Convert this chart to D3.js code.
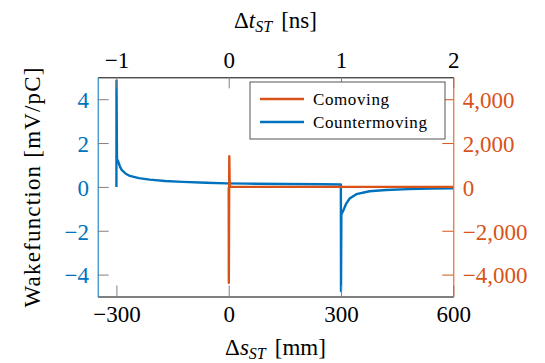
<!DOCTYPE html>
<html>
<head>
<meta charset="utf-8">
<script src="https://cdn.jsdelivr.net/npm/d3@7"></script>
<style>
  html, body { margin: 0; padding: 0; background: #fff; }
  svg { display: block; }
</style>
</head>
<body>
<svg id="chart" width="545" height="363"></svg>
<script>
// Longitudinal position offset [mm] and wake [mV/pC] of the countermoving beam
const counterS = [-300, -299.8, -298.5, -296, -290, -286, -275, -264, -240, -211, -170, -123, -60, -5, 50, 150, 250, 299.6,
                  300, 301, 305, 314, 323, 341, 376, 420, 480, 540, 600];
const counterW = [0, 4.85, 1.25, 1.2, 0.9, 0.78, 0.6, 0.5, 0.4, 0.33, 0.27, 0.23, 0.19, 0.16, 0.15, 0.13, 0.12, 0.11,
                  -4.75, -1.25, -1.12, -0.76, -0.53, -0.33, -0.2, -0.14, -0.1, -0.08, -0.06];

// Comoving beam wake [mV/pC], right-hand scale
const comovS = [0, 0.3, 1.5, 2.5, 4, 600];
const comovW = [0, -4370, 1400, 200, 0, 0];

const sTicks = [-300, 0, 300, 600];
const tTicks = [-1, 0, 1, 2];
const wakeTicks = [-4, -2, 0, 2, 4];
const comovTicks = [-4000, -2000, 0, 2000, 4000];

const seriesNames = ["Comoving", "Countermoving"];
const colors = { comov: "#D95319", counter: "#0072BD" };
const tickGray = "#808080";
const fontSize = 23;
const serif = "Tinos, 'Noto Serif', 'Nimbus Roman', 'Nimbus Roman No9 L', FreeSerif, 'Times New Roman', Times, 'Noto Serif CJK SC', 'Liberation Serif', 'DejaVu Serif', serif";

const margin = { left: 97.7, right: 545 - 453.3, top: 77.3, bottom: 363 - 296.5 };
const W = 545, H = 363;
const pw = W - margin.left - margin.right;
const ph = H - margin.top - margin.bottom;

const svg = d3.select("#chart");
const g = svg.append("g").attr("transform", `translate(${margin.left},${margin.top})`);

const x = d3.scaleLinear().domain([-350, 600]).range([0, pw]);
const xt = d3.scaleLinear().domain([-350 / 300, 2]).range([0, pw]);
const yL = d3.scaleLinear().domain([-5, 5]).range([ph, 0]);
const yR = d3.scaleLinear().domain([-5000, 5000]).range([ph, 0]);

g.append("clipPath").attr("id", "plotClip")
  .append("rect").attr("x", 0).attr("y", 0).attr("width", pw).attr("height", ph);

// curves
const counterData = counterS.map((s, i) => [s, counterW[i]]);
const comovData = comovS.map((s, i) => [s, comovW[i]]);

const plot = g.append("g").attr("clip-path", "url(#plotClip)");
plot.append("path")
  .datum(counterData)
  .attr("fill", "none")
  .attr("stroke", colors.counter)
  .attr("stroke-width", 2.4)
  .attr("stroke-linejoin", "round")
  .attr("d", d3.line().x(d => x(d[0])).y(d => yL(d[1])));
plot.append("path")
  .datum(comovData)
  .attr("fill", "none")
  .attr("stroke", colors.comov)
  .attr("stroke-width", 2.4)
  .attr("stroke-linejoin", "round")
  .attr("d", d3.line().x(d => x(d[0])).y(d => yR(d[1])));

// axes (ticks point inward)
function styleAxis(sel, domainColor, tickColor, textColor) {
  sel.attr("font-family", serif).attr("font-size", fontSize);
  sel.select(".domain").attr("stroke", domainColor).attr("stroke-width", 1);
  sel.selectAll(".tick line").attr("stroke", tickColor).attr("stroke-width", 1);
  sel.selectAll(".tick text").attr("fill", textColor);
}

const axB = g.append("g").attr("transform", `translate(0,${ph})`)
  .call(d3.axisBottom(x).tickValues(sTicks).tickSize(-11).tickSizeOuter(0).tickPadding(9.2));
styleAxis(axB, "#000", tickGray, "#000");

const axT = g.append("g")
  .call(d3.axisTop(xt).tickValues(tTicks).tickSize(-11).tickSizeOuter(0).tickPadding(9.3).tickFormat(d3.format("d")));
styleAxis(axT, "#000", tickGray, "#000");

const axL = g.append("g")
  .call(d3.axisLeft(yL).tickValues(wakeTicks).tickSize(-11).tickSizeOuter(0).tickPadding(8.7));
styleAxis(axL, colors.counter, tickGray, colors.counter);
axL.selectAll(".tick text").attr("dy", "0.36em");

const axR = g.append("g").attr("transform", `translate(${pw},0)`)
  .call(d3.axisRight(yR).tickValues(comovTicks).tickSize(-11).tickSizeOuter(0).tickPadding(9.4).tickFormat(d3.format(",")));
styleAxis(axR, colors.comov, colors.comov, colors.comov);
axR.selectAll(".tick text").attr("dy", "0.36em");

// legend
const lg = g.append("g").attr("transform", `translate(${250 - margin.left},${82 - margin.top})`);
lg.append("rect").attr("width", 195).attr("height", 57)
  .attr("fill", "#fff").attr("stroke", "#555").attr("stroke-width", 1);
seriesNames.forEach((name, i) => {
  const yy = 17 + i * 23;
  lg.append("line").attr("x1", 10).attr("x2", 54).attr("y1", yy).attr("y2", yy)
    .attr("stroke", i === 0 ? colors.comov : colors.counter).attr("stroke-width", 2.4);
  lg.append("text").attr("x", 63).attr("y", yy + 5.5)
    .attr("font-family", serif).attr("font-size", 17).attr("letter-spacing", 0.6)
    .attr("fill", "#000").text(name);
});

// axis titles
function subTitle(sel, sym, unit) {
  sel.append("tspan").text("Δ");
  sel.append("tspan").attr("font-style", "italic").text(sym);
  sel.append("tspan").attr("font-style", "italic").attr("font-size", 16).attr("dy", 4).text("ST");
  sel.append("tspan").attr("dy", -4).attr("dx", 9).text("[" + unit + "]");
}
const tTitle = svg.append("text").attr("x", margin.left + pw / 2).attr("y", 28)
  .attr("text-anchor", "middle").attr("font-family", serif).attr("font-size", fontSize).attr("fill", "#000");
subTitle(tTitle, "t", "ns");

const sTitle = svg.append("text").attr("x", margin.left + pw / 2).attr("y", 355)
  .attr("text-anchor", "middle").attr("font-family", serif).attr("font-size", fontSize).attr("fill", "#000");
subTitle(sTitle, "s", "mm");

svg.append("text")
  .attr("transform", `translate(40,${margin.top + ph / 2}) rotate(-90)`)
  .attr("text-anchor", "middle").attr("font-family", serif).attr("font-size", fontSize).attr("fill", "#000")
  .attr("letter-spacing", 1.2)
  .text("Wakefunction [mV/pC]");
</script>
</body>
</html>
